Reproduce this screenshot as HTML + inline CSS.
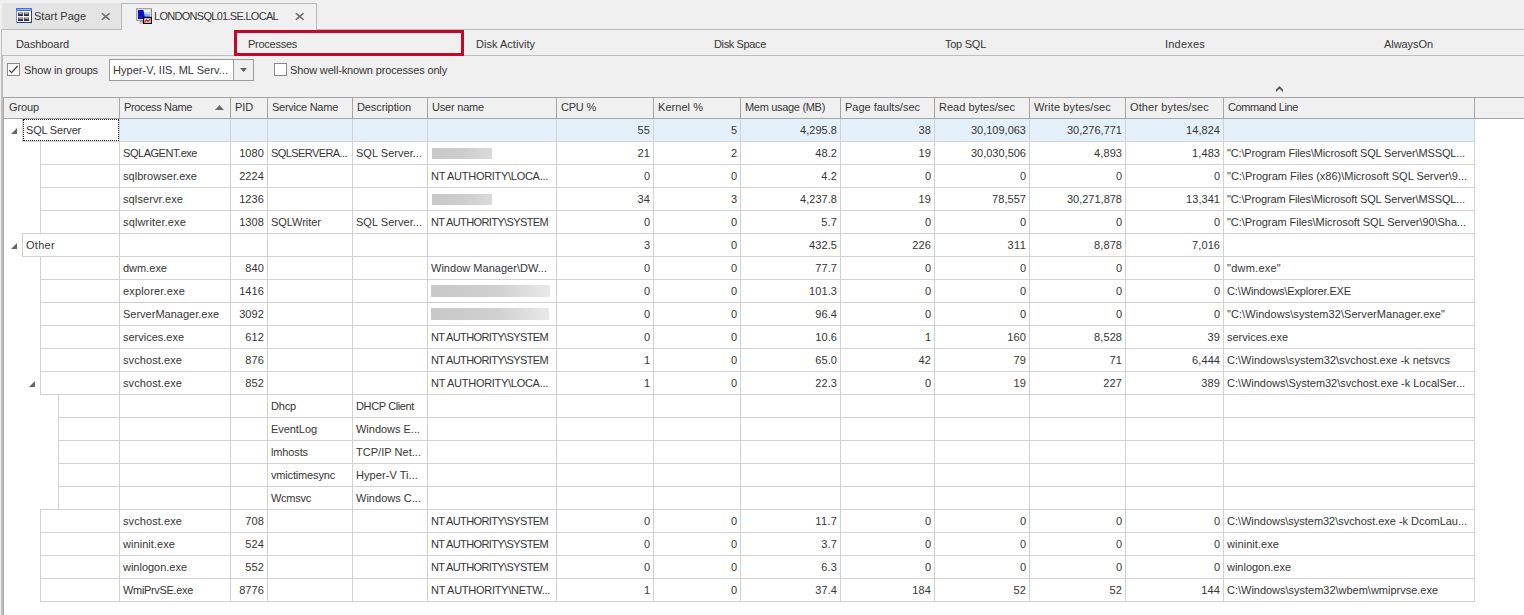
<!DOCTYPE html>
<html><head><meta charset="utf-8"><title>Processes</title><style>
html,body{margin:0;padding:0}
body{width:1524px;height:615px;background:#f0f0f0;position:relative;overflow:hidden;font-family:"Liberation Sans",sans-serif;font-size:11px;color:#363636}
body>div,body>span,body>svg{position:absolute;display:block}
.t{white-space:nowrap;line-height:22px;height:22px;}
.r{text-align:right}
.tab{line-height:22px}
</style></head><body>
<div style="left:2px;top:3px;width:119px;height:26px;background:#e4e4e4;"></div>
<div style="left:1px;top:29px;width:121px;height:1px;background:#bababa;"></div>
<div style="left:121px;top:3px;width:196px;height:1px;background:#bababa;"></div>
<div style="left:121px;top:3px;width:1px;height:27px;background:#bababa;"></div>
<div style="left:316px;top:3px;width:1px;height:27px;background:#bababa;"></div>
<div style="left:316px;top:29px;width:1208px;height:1px;background:#bababa;"></div>
<svg style="left:16px;top:8px" width="16" height="16" viewBox="0 0 16 16">
<rect x="0.5" y="0.5" width="15" height="14" fill="#f6f8fd" stroke="#6f8fdc"/>
<rect x="0" y="0" width="16" height="3" fill="#4273e6"/>
<rect x="1" y="1" width="14" height="1" fill="#8db0fa"/>
<rect x="2" y="4" width="5" height="4" fill="#27457f"/><rect x="2" y="4" width="5" height="1" fill="#8a9cc4"/><rect x="2" y="5" width="5" height="1" fill="#5673ad"/><rect x="3" y="4" width="3" height="2" fill="#f39a4c"/><rect x="3" y="5" width="1" height="1" fill="#c98a6a"/><rect x="2" y="7" width="5" height="1" fill="#1b2f5c"/><rect x="8" y="4" width="5" height="4" fill="#27457f"/><rect x="8" y="4" width="5" height="1" fill="#8a9cc4"/><rect x="8" y="5" width="5" height="1" fill="#5673ad"/><rect x="9" y="4" width="3" height="2" fill="#f39a4c"/><rect x="9" y="5" width="1" height="1" fill="#c98a6a"/><rect x="8" y="7" width="5" height="1" fill="#1b2f5c"/><rect x="2" y="9" width="5" height="4" fill="#27457f"/><rect x="2" y="9" width="5" height="1" fill="#8a9cc4"/><rect x="2" y="10" width="5" height="1" fill="#5673ad"/><rect x="3" y="9" width="3" height="2" fill="#f39a4c"/><rect x="3" y="10" width="1" height="1" fill="#c98a6a"/><rect x="2" y="12" width="5" height="1" fill="#1b2f5c"/><rect x="8" y="9" width="5" height="4" fill="#27457f"/><rect x="8" y="9" width="5" height="1" fill="#8a9cc4"/><rect x="8" y="10" width="5" height="1" fill="#5673ad"/><rect x="9" y="9" width="3" height="2" fill="#f39a4c"/><rect x="9" y="10" width="1" height="1" fill="#c98a6a"/><rect x="8" y="12" width="5" height="1" fill="#1b2f5c"/>
<rect x="15" y="3" width="1" height="12" fill="#2a3f66"/><rect x="1" y="14" width="15" height="1" fill="#2a3f66"/>
</svg>
<span class="t tab" style="left:34px;top:5px;letter-spacing:0.002px;">Start Page</span>
<svg style="left:101px;top:13px" width="10" height="7" viewBox="0 0 10 7"><path d="M0.9 0.2 L8.6 6.8 M8.6 0.2 L0.9 6.8" stroke="#727272" stroke-width="1.7" fill="none"/></svg>
<svg style="left:136px;top:8px" width="16" height="16" viewBox="0 0 16 16">
<rect x="0.5" y="0.5" width="15" height="12" fill="#dad7cd" stroke="#aaa89e"/>
<rect x="15" y="1" width="1" height="12" fill="#8b8980"/><rect x="1" y="12" width="15" height="1" fill="#9c9a90"/>
<rect x="2" y="2" width="12" height="9" fill="#0a14c4"/>
<polygon points="7.4,2 14,2 14,4 7.8,4" fill="#eef4ff"/><polygon points="7.8,4 14,4 14,6 8.2,6" fill="#c4d6ff"/><polygon points="8.2,6 14,6 14,8 8.6,8" fill="#8fb0ff"/><polygon points="8.6,8 14,8 14,11 9.2,11" fill="#4f7af4"/>
<rect x="4" y="13" width="5" height="1" fill="#a9a79e"/><rect x="3" y="14" width="7" height="1.6" fill="#c9c7be"/>
<rect x="7.6" y="9.6" width="7.8" height="5.8" fill="#fff" stroke="#000" stroke-width="1.3"/>
<path d="M8.8 13.7 L10.4 11.9 L11.9 13.2 L14.2 11.2" stroke="#ee1010" stroke-width="1.4" fill="none"/>
</svg>
<span class="t tab" style="left:154px;top:5px;letter-spacing:-0.709px;">LONDONSQL01.SE.LOCAL</span>
<svg style="left:295px;top:13px" width="10" height="7" viewBox="0 0 10 7"><path d="M0.9 0.2 L8.6 6.8 M8.6 0.2 L0.9 6.8" stroke="#727272" stroke-width="1.7" fill="none"/></svg>
<div style="left:1px;top:30px;width:1px;height:585px;background:#bdbdbd;"></div>
<div style="left:2px;top:56px;width:1px;height:559px;background:#bfbfbf;"></div>
<div style="left:3px;top:97px;width:1px;height:518px;background:#a8a8a8;"></div>
<div style="left:2px;top:55px;width:1522px;height:1px;background:#bebebe;"></div>
<span class="t nav" style="left:16px;top:33px;letter-spacing:-0.092px;">Dashboard</span>
<span class="t nav" style="left:248px;top:33px;letter-spacing:-0.262px;">Processes</span>
<span class="t nav" style="left:476px;top:33px;letter-spacing:0.024px;">Disk Activity</span>
<span class="t nav" style="left:714px;top:33px;letter-spacing:-0.364px;">Disk Space</span>
<span class="t nav" style="left:945px;top:33px;letter-spacing:-0.259px;">Top SQL</span>
<span class="t nav" style="left:1165px;top:33px;letter-spacing:0.21px;">Indexes</span>
<span class="t nav" style="left:1384px;top:33px;letter-spacing:-0.066px;">AlwaysOn</span>
<div style="left:234px;top:30px;width:224px;height:20px;border:3px solid #c20a28;background:transparent"></div>
<div style="left:7px;top:63px;width:11px;height:11px;border:1px solid #8c8c8c;background:#fff"></div>
<svg style="left:7px;top:63px" width="13" height="13" viewBox="0 0 13 13"><path d="M2.3 7.2 L4.6 9.6 L10.6 3" stroke="#444" stroke-width="1.3" fill="none"/></svg>
<span class="t" style="left:24px;top:59px;letter-spacing:-0.131px;">Show in groups</span>
<div style="left:109px;top:59px;width:143px;height:20px;border:1px solid #9b9b9b;background:#fff"></div>
<div style="left:234px;top:60px;width:19px;height:20px;background:#f0f0f0;"></div>
<div style="left:233px;top:60px;width:1px;height:20px;background:#9b9b9b;"></div>
<svg style="left:240px;top:68px" width="7" height="4" viewBox="0 0 7 4"><polygon points="0,0 7,0 3.5,4" fill="#606060"/></svg>
<span class="t" style="left:113px;top:59px;letter-spacing:0.046px;">Hyper-V, IIS, ML Serv...</span>
<div style="left:274px;top:63px;width:11px;height:11px;border:1px solid #8c8c8c;background:#fff"></div>
<span class="t" style="left:290px;top:59px;letter-spacing:-0.147px;">Show well-known processes only</span>
<svg style="left:1276px;top:86px" width="7" height="7" viewBox="0 0 7 7"><polygon points="3.5,0 7,3.5 7,6 3.5,2.7 0,6 0,3.5" fill="#585858"/></svg>
<div style="left:4px;top:97px;width:1520px;height:505px;background:#fff;"></div>
<div style="left:4px;top:601px;width:1520px;height:14px;background:#fff;"></div>
<div style="left:4px;top:97px;width:1520px;height:22px;background:#f0f0f0;"></div>
<div style="left:4px;top:97px;width:1520px;height:1px;background:#a5a5a5;"></div>
<div style="left:4px;top:118px;width:1520px;height:1px;background:#a5a5a5;"></div>
<div style="left:119px;top:98px;width:1px;height:20px;background:#a5a5a5;"></div>
<div style="left:230px;top:98px;width:1px;height:20px;background:#a5a5a5;"></div>
<div style="left:267px;top:98px;width:1px;height:20px;background:#a5a5a5;"></div>
<div style="left:352px;top:98px;width:1px;height:20px;background:#a5a5a5;"></div>
<div style="left:427px;top:98px;width:1px;height:20px;background:#a5a5a5;"></div>
<div style="left:556px;top:98px;width:1px;height:20px;background:#a5a5a5;"></div>
<div style="left:653px;top:98px;width:1px;height:20px;background:#a5a5a5;"></div>
<div style="left:740px;top:98px;width:1px;height:20px;background:#a5a5a5;"></div>
<div style="left:840px;top:98px;width:1px;height:20px;background:#a5a5a5;"></div>
<div style="left:934px;top:98px;width:1px;height:20px;background:#a5a5a5;"></div>
<div style="left:1029px;top:98px;width:1px;height:20px;background:#a5a5a5;"></div>
<div style="left:1125px;top:98px;width:1px;height:20px;background:#a5a5a5;"></div>
<div style="left:1223px;top:98px;width:1px;height:20px;background:#a5a5a5;"></div>
<div style="left:1474px;top:98px;width:1px;height:20px;background:#a5a5a5;"></div>
<span class="t h" style="left:9px;top:96px;letter-spacing:-0.116px;">Group</span>
<span class="t h" style="left:124px;top:96px;letter-spacing:-0.345px;">Process Name</span>
<span class="t h" style="left:235px;top:96px;letter-spacing:-0.115px;">PID</span>
<span class="t h" style="left:272px;top:96px;letter-spacing:-0.257px;">Service Name</span>
<span class="t h" style="left:357px;top:96px;letter-spacing:-0.094px;">Description</span>
<span class="t h" style="left:432px;top:96px;letter-spacing:-0.2px;">User name</span>
<span class="t h" style="left:561px;top:96px;letter-spacing:-0.212px;">CPU %</span>
<span class="t h" style="left:658px;top:96px;letter-spacing:0.045px;">Kernel %</span>
<span class="t h" style="left:745px;top:96px;letter-spacing:-0.311px;">Mem usage (MB)</span>
<span class="t h" style="left:845px;top:96px;letter-spacing:-0.015px;">Page faults/sec</span>
<span class="t h" style="left:939px;top:96px;letter-spacing:0.012px;">Read bytes/sec</span>
<span class="t h" style="left:1034px;top:96px;letter-spacing:0.133px;">Write bytes/sec</span>
<span class="t h" style="left:1130px;top:96px;letter-spacing:0.13px;">Other bytes/sec</span>
<span class="t h" style="left:1228px;top:96px;letter-spacing:-0.383px;">Command Line</span>
<svg style="left:215px;top:105px" width="9" height="5" viewBox="0 0 9 5"><polygon points="0,5 9,5 4.5,0" fill="#6a6a6a"/></svg>
<div style="left:120px;top:119px;width:1354px;height:22px;background:#e5f1fa;"></div>
<div style="left:22px;top:141px;width:1453px;height:1px;background:#d2d2d2;"></div>
<div style="left:22px;top:119px;width:1px;height:22px;background:#d2d2d2;"></div>
<span class="t" style="left:26px;top:119px;letter-spacing:-0.206px;">SQL Server</span>
<span class="t r" style="left:450.38px;width:200px;top:119px;letter-spacing:0.375px">55</span>
<span class="t r" style="left:537.88px;width:200px;top:119px;letter-spacing:0.875px">5</span>
<span class="t r" style="left:637.04px;width:200px;top:119px;letter-spacing:0.042px">4,295.8</span>
<span class="t r" style="left:731.38px;width:200px;top:119px;letter-spacing:0.375px">38</span>
<span class="t r" style="left:825.99px;width:200px;top:119px;letter-spacing:-0.006px">30,109,063</span>
<span class="t r" style="left:921.99px;width:200px;top:119px;letter-spacing:-0.006px">30,276,771</span>
<span class="t r" style="left:1020.06px;width:200px;top:119px;letter-spacing:0.057px">14,824</span>
<div style="left:40px;top:164px;width:1435px;height:1px;background:#d2d2d2;"></div>
<div style="left:40px;top:142px;width:1px;height:22px;background:#d2d2d2;"></div>
<span class="t" style="left:123px;top:142px;letter-spacing:-0.457px;">SQLAGENT.exe</span>
<span class="t r" style="left:64.13px;width:200px;top:142px;letter-spacing:0.129px">1080</span>
<span class="t" style="left:271px;top:142px;letter-spacing:-0.582px;">SQLSERVERA...</span>
<span class="t" style="left:356px;top:142px;letter-spacing:0.029px;">SQL Server...</span>
<div style="left:432px;top:148px;width:60px;height:11px;background:linear-gradient(90deg,#c8c8c8,#cecece 55%,#dadada);"></div>
<span class="t r" style="left:450.38px;width:200px;top:142px;letter-spacing:0.375px">21</span>
<span class="t r" style="left:537.88px;width:200px;top:142px;letter-spacing:0.875px">2</span>
<span class="t r" style="left:637.14px;width:200px;top:142px;letter-spacing:0.145px">48.2</span>
<span class="t r" style="left:731.38px;width:200px;top:142px;letter-spacing:0.375px">19</span>
<span class="t r" style="left:825.99px;width:200px;top:142px;letter-spacing:-0.006px">30,030,506</span>
<span class="t r" style="left:922.09px;width:200px;top:142px;letter-spacing:0.094px">4,893</span>
<span class="t r" style="left:1020.09px;width:200px;top:142px;letter-spacing:0.094px">1,483</span>
<span class="t" style="left:1227px;top:142px;letter-spacing:-0.148px;">&quot;C:\Program Files\Microsoft SQL Server\MSSQL...</span>
<div style="left:40px;top:187px;width:1435px;height:1px;background:#d2d2d2;"></div>
<div style="left:40px;top:165px;width:1px;height:22px;background:#d2d2d2;"></div>
<span class="t" style="left:123px;top:165px;letter-spacing:0.045px;">sqlbrowser.exe</span>
<span class="t r" style="left:64.13px;width:200px;top:165px;letter-spacing:0.129px">2224</span>
<span class="t" style="left:431px;top:165px;letter-spacing:-0.283px;">NT AUTHORITY\LOCA...</span>
<span class="t r" style="left:450.88px;width:200px;top:165px;letter-spacing:0.875px">0</span>
<span class="t r" style="left:537.88px;width:200px;top:165px;letter-spacing:0.875px">0</span>
<span class="t r" style="left:637.23px;width:200px;top:165px;letter-spacing:0.234px">4.2</span>
<span class="t r" style="left:731.88px;width:200px;top:165px;letter-spacing:0.875px">0</span>
<span class="t r" style="left:826.88px;width:200px;top:165px;letter-spacing:0.875px">0</span>
<span class="t r" style="left:922.88px;width:200px;top:165px;letter-spacing:0.875px">0</span>
<span class="t r" style="left:1020.88px;width:200px;top:165px;letter-spacing:0.875px">0</span>
<span class="t" style="left:1227px;top:165px;letter-spacing:-0.014px;">&quot;C:\Program Files (x86)\Microsoft SQL Server\9...</span>
<div style="left:40px;top:210px;width:1435px;height:1px;background:#d2d2d2;"></div>
<div style="left:40px;top:188px;width:1px;height:22px;background:#d2d2d2;"></div>
<span class="t" style="left:123px;top:188px;letter-spacing:0.108px;">sqlservr.exe</span>
<span class="t r" style="left:64.13px;width:200px;top:188px;letter-spacing:0.129px">1236</span>
<div style="left:432px;top:194px;width:60px;height:11px;background:linear-gradient(90deg,#c8c8c8,#cecece 55%,#dadada);"></div>
<span class="t r" style="left:450.38px;width:200px;top:188px;letter-spacing:0.375px">34</span>
<span class="t r" style="left:537.88px;width:200px;top:188px;letter-spacing:0.875px">3</span>
<span class="t r" style="left:637.04px;width:200px;top:188px;letter-spacing:0.042px">4,237.8</span>
<span class="t r" style="left:731.38px;width:200px;top:188px;letter-spacing:0.375px">19</span>
<span class="t r" style="left:826.06px;width:200px;top:188px;letter-spacing:0.057px">78,557</span>
<span class="t r" style="left:921.99px;width:200px;top:188px;letter-spacing:-0.006px">30,271,878</span>
<span class="t r" style="left:1020.06px;width:200px;top:188px;letter-spacing:0.057px">13,341</span>
<span class="t" style="left:1227px;top:188px;letter-spacing:-0.148px;">&quot;C:\Program Files\Microsoft SQL Server\MSSQL...</span>
<div style="left:22px;top:233px;width:1453px;height:1px;background:#d2d2d2;"></div>
<div style="left:40px;top:211px;width:1px;height:22px;background:#d2d2d2;"></div>
<span class="t" style="left:123px;top:211px;letter-spacing:0.143px;">sqlwriter.exe</span>
<span class="t r" style="left:64.13px;width:200px;top:211px;letter-spacing:0.129px">1308</span>
<span class="t" style="left:271px;top:211px;letter-spacing:-0.036px;">SQLWriter</span>
<span class="t" style="left:356px;top:211px;letter-spacing:0.029px;">SQL Server...</span>
<span class="t" style="left:431px;top:211px;letter-spacing:-0.619px;">NT AUTHORITY\SYSTEM</span>
<span class="t r" style="left:450.88px;width:200px;top:211px;letter-spacing:0.875px">0</span>
<span class="t r" style="left:537.88px;width:200px;top:211px;letter-spacing:0.875px">0</span>
<span class="t r" style="left:637.23px;width:200px;top:211px;letter-spacing:0.234px">5.7</span>
<span class="t r" style="left:731.88px;width:200px;top:211px;letter-spacing:0.875px">0</span>
<span class="t r" style="left:826.88px;width:200px;top:211px;letter-spacing:0.875px">0</span>
<span class="t r" style="left:922.88px;width:200px;top:211px;letter-spacing:0.875px">0</span>
<span class="t r" style="left:1020.88px;width:200px;top:211px;letter-spacing:0.875px">0</span>
<span class="t" style="left:1227px;top:211px;letter-spacing:-0.048px;">&quot;C:\Program Files\Microsoft SQL Server\90\Sha...</span>
<div style="left:22px;top:256px;width:1453px;height:1px;background:#d2d2d2;"></div>
<div style="left:22px;top:234px;width:1px;height:22px;background:#d2d2d2;"></div>
<span class="t" style="left:26px;top:234px;letter-spacing:0.297px;">Other</span>
<span class="t r" style="left:450.88px;width:200px;top:234px;letter-spacing:0.875px">3</span>
<span class="t r" style="left:537.88px;width:200px;top:234px;letter-spacing:0.875px">0</span>
<span class="t r" style="left:637.09px;width:200px;top:234px;letter-spacing:0.094px">432.5</span>
<span class="t r" style="left:731.21px;width:200px;top:234px;letter-spacing:0.214px">226</span>
<span class="t r" style="left:826.48px;width:200px;top:234px;letter-spacing:0.484px">311</span>
<span class="t r" style="left:922.09px;width:200px;top:234px;letter-spacing:0.094px">8,878</span>
<span class="t r" style="left:1020.09px;width:200px;top:234px;letter-spacing:0.094px">7,016</span>
<div style="left:40px;top:279px;width:1435px;height:1px;background:#d2d2d2;"></div>
<div style="left:40px;top:257px;width:1px;height:22px;background:#d2d2d2;"></div>
<span class="t" style="left:123px;top:257px;letter-spacing:-0.004px;">dwm.exe</span>
<span class="t r" style="left:64.21px;width:200px;top:257px;letter-spacing:0.214px">840</span>
<span class="t" style="left:431px;top:257px;letter-spacing:0.023px;">Window Manager\DW...</span>
<span class="t r" style="left:450.88px;width:200px;top:257px;letter-spacing:0.875px">0</span>
<span class="t r" style="left:537.88px;width:200px;top:257px;letter-spacing:0.875px">0</span>
<span class="t r" style="left:637.14px;width:200px;top:257px;letter-spacing:0.145px">77.7</span>
<span class="t r" style="left:731.88px;width:200px;top:257px;letter-spacing:0.875px">0</span>
<span class="t r" style="left:826.88px;width:200px;top:257px;letter-spacing:0.875px">0</span>
<span class="t r" style="left:922.88px;width:200px;top:257px;letter-spacing:0.875px">0</span>
<span class="t r" style="left:1020.88px;width:200px;top:257px;letter-spacing:0.875px">0</span>
<span class="t" style="left:1227px;top:257px;letter-spacing:0.241px;">&quot;dwm.exe&quot;</span>
<div style="left:40px;top:302px;width:1435px;height:1px;background:#d2d2d2;"></div>
<div style="left:40px;top:280px;width:1px;height:22px;background:#d2d2d2;"></div>
<span class="t" style="left:123px;top:280px;letter-spacing:0.172px;">explorer.exe</span>
<span class="t r" style="left:64.13px;width:200px;top:280px;letter-spacing:0.129px">1416</span>
<div style="left:431px;top:285px;width:119px;height:12px;background:linear-gradient(90deg,#c8c8c8,#d0d0d0 55%,#e9e9e9);"></div>
<span class="t r" style="left:450.88px;width:200px;top:280px;letter-spacing:0.875px">0</span>
<span class="t r" style="left:537.88px;width:200px;top:280px;letter-spacing:0.875px">0</span>
<span class="t r" style="left:637.09px;width:200px;top:280px;letter-spacing:0.094px">101.3</span>
<span class="t r" style="left:731.88px;width:200px;top:280px;letter-spacing:0.875px">0</span>
<span class="t r" style="left:826.88px;width:200px;top:280px;letter-spacing:0.875px">0</span>
<span class="t r" style="left:922.88px;width:200px;top:280px;letter-spacing:0.875px">0</span>
<span class="t r" style="left:1020.88px;width:200px;top:280px;letter-spacing:0.875px">0</span>
<span class="t" style="left:1227px;top:280px;letter-spacing:-0.137px;">C:\Windows\Explorer.EXE</span>
<div style="left:40px;top:325px;width:1435px;height:1px;background:#d2d2d2;"></div>
<div style="left:40px;top:303px;width:1px;height:22px;background:#d2d2d2;"></div>
<span class="t" style="left:123px;top:303px;letter-spacing:0.0px;">ServerManager.exe</span>
<span class="t r" style="left:64.13px;width:200px;top:303px;letter-spacing:0.129px">3092</span>
<div style="left:431px;top:308px;width:118px;height:12px;background:linear-gradient(90deg,#c8c8c8,#d0d0d0 55%,#e9e9e9);"></div>
<span class="t r" style="left:450.88px;width:200px;top:303px;letter-spacing:0.875px">0</span>
<span class="t r" style="left:537.88px;width:200px;top:303px;letter-spacing:0.875px">0</span>
<span class="t r" style="left:637.14px;width:200px;top:303px;letter-spacing:0.145px">96.4</span>
<span class="t r" style="left:731.88px;width:200px;top:303px;letter-spacing:0.875px">0</span>
<span class="t r" style="left:826.88px;width:200px;top:303px;letter-spacing:0.875px">0</span>
<span class="t r" style="left:922.88px;width:200px;top:303px;letter-spacing:0.875px">0</span>
<span class="t r" style="left:1020.88px;width:200px;top:303px;letter-spacing:0.875px">0</span>
<span class="t" style="left:1227px;top:303px;letter-spacing:0.06px;">&quot;C:\Windows\system32\ServerManager.exe&quot;</span>
<div style="left:40px;top:348px;width:1435px;height:1px;background:#d2d2d2;"></div>
<div style="left:40px;top:326px;width:1px;height:22px;background:#d2d2d2;"></div>
<span class="t" style="left:123px;top:326px;letter-spacing:-0.012px;">services.exe</span>
<span class="t r" style="left:64.21px;width:200px;top:326px;letter-spacing:0.214px">612</span>
<span class="t" style="left:431px;top:326px;letter-spacing:-0.619px;">NT AUTHORITY\SYSTEM</span>
<span class="t r" style="left:450.88px;width:200px;top:326px;letter-spacing:0.875px">0</span>
<span class="t r" style="left:537.88px;width:200px;top:326px;letter-spacing:0.875px">0</span>
<span class="t r" style="left:637.14px;width:200px;top:326px;letter-spacing:0.145px">10.6</span>
<span class="t r" style="left:731.88px;width:200px;top:326px;letter-spacing:0.875px">1</span>
<span class="t r" style="left:826.21px;width:200px;top:326px;letter-spacing:0.214px">160</span>
<span class="t r" style="left:922.09px;width:200px;top:326px;letter-spacing:0.094px">8,528</span>
<span class="t r" style="left:1020.38px;width:200px;top:326px;letter-spacing:0.375px">39</span>
<span class="t" style="left:1227px;top:326px;letter-spacing:-0.012px;">services.exe</span>
<div style="left:40px;top:371px;width:1435px;height:1px;background:#d2d2d2;"></div>
<div style="left:40px;top:349px;width:1px;height:22px;background:#d2d2d2;"></div>
<span class="t" style="left:123px;top:349px;letter-spacing:0.082px;">svchost.exe</span>
<span class="t r" style="left:64.21px;width:200px;top:349px;letter-spacing:0.214px">876</span>
<span class="t" style="left:431px;top:349px;letter-spacing:-0.619px;">NT AUTHORITY\SYSTEM</span>
<span class="t r" style="left:450.88px;width:200px;top:349px;letter-spacing:0.875px">1</span>
<span class="t r" style="left:537.88px;width:200px;top:349px;letter-spacing:0.875px">0</span>
<span class="t r" style="left:637.14px;width:200px;top:349px;letter-spacing:0.145px">65.0</span>
<span class="t r" style="left:731.38px;width:200px;top:349px;letter-spacing:0.375px">42</span>
<span class="t r" style="left:826.38px;width:200px;top:349px;letter-spacing:0.375px">79</span>
<span class="t r" style="left:922.38px;width:200px;top:349px;letter-spacing:0.375px">71</span>
<span class="t r" style="left:1020.09px;width:200px;top:349px;letter-spacing:0.094px">6,444</span>
<span class="t" style="left:1227px;top:349px;letter-spacing:0.012px;">C:\Windows\system32\svchost.exe -k netsvcs</span>
<div style="left:40px;top:394px;width:1435px;height:1px;background:#d2d2d2;"></div>
<div style="left:40px;top:372px;width:1px;height:22px;background:#d2d2d2;"></div>
<span class="t" style="left:123px;top:372px;letter-spacing:0.082px;">svchost.exe</span>
<span class="t r" style="left:64.21px;width:200px;top:372px;letter-spacing:0.214px">852</span>
<span class="t" style="left:431px;top:372px;letter-spacing:-0.283px;">NT AUTHORITY\LOCA...</span>
<span class="t r" style="left:450.88px;width:200px;top:372px;letter-spacing:0.875px">1</span>
<span class="t r" style="left:537.88px;width:200px;top:372px;letter-spacing:0.875px">0</span>
<span class="t r" style="left:637.14px;width:200px;top:372px;letter-spacing:0.145px">22.3</span>
<span class="t r" style="left:731.88px;width:200px;top:372px;letter-spacing:0.875px">0</span>
<span class="t r" style="left:826.38px;width:200px;top:372px;letter-spacing:0.375px">19</span>
<span class="t r" style="left:922.21px;width:200px;top:372px;letter-spacing:0.214px">227</span>
<span class="t r" style="left:1020.21px;width:200px;top:372px;letter-spacing:0.214px">389</span>
<span class="t" style="left:1227px;top:372px;letter-spacing:-0.023px;">C:\Windows\System32\svchost.exe -k LocalSer...</span>
<div style="left:58px;top:417px;width:1417px;height:1px;background:#d2d2d2;"></div>
<div style="left:58px;top:395px;width:1px;height:22px;background:#d2d2d2;"></div>
<span class="t" style="left:271px;top:395px;letter-spacing:-0.172px;">Dhcp</span>
<span class="t" style="left:356px;top:395px;letter-spacing:-0.378px;">DHCP Client</span>
<div style="left:58px;top:440px;width:1417px;height:1px;background:#d2d2d2;"></div>
<div style="left:58px;top:418px;width:1px;height:22px;background:#d2d2d2;"></div>
<span class="t" style="left:271px;top:418px;letter-spacing:-0.061px;">EventLog</span>
<span class="t" style="left:356px;top:418px;letter-spacing:-0.016px;">Windows E...</span>
<div style="left:58px;top:463px;width:1417px;height:1px;background:#d2d2d2;"></div>
<div style="left:58px;top:441px;width:1px;height:22px;background:#d2d2d2;"></div>
<span class="t" style="left:271px;top:441px;letter-spacing:-0.129px;">lmhosts</span>
<span class="t" style="left:356px;top:441px;letter-spacing:0.031px;">TCP/IP Net...</span>
<div style="left:58px;top:486px;width:1417px;height:1px;background:#d2d2d2;"></div>
<div style="left:58px;top:464px;width:1px;height:22px;background:#d2d2d2;"></div>
<span class="t" style="left:271px;top:464px;letter-spacing:-0.168px;">vmictimesync</span>
<span class="t" style="left:356px;top:464px;letter-spacing:0.067px;">Hyper-V Ti...</span>
<div style="left:40px;top:509px;width:1435px;height:1px;background:#d2d2d2;"></div>
<div style="left:58px;top:487px;width:1px;height:22px;background:#d2d2d2;"></div>
<span class="t" style="left:271px;top:487px;letter-spacing:-0.258px;">Wcmsvc</span>
<span class="t" style="left:356px;top:487px;letter-spacing:0.017px;">Windows C...</span>
<div style="left:40px;top:532px;width:1435px;height:1px;background:#d2d2d2;"></div>
<div style="left:40px;top:510px;width:1px;height:22px;background:#d2d2d2;"></div>
<span class="t" style="left:123px;top:510px;letter-spacing:0.082px;">svchost.exe</span>
<span class="t r" style="left:64.21px;width:200px;top:510px;letter-spacing:0.214px">708</span>
<span class="t" style="left:431px;top:510px;letter-spacing:-0.619px;">NT AUTHORITY\SYSTEM</span>
<span class="t r" style="left:450.88px;width:200px;top:510px;letter-spacing:0.875px">0</span>
<span class="t r" style="left:537.88px;width:200px;top:510px;letter-spacing:0.875px">0</span>
<span class="t r" style="left:637.35px;width:200px;top:510px;letter-spacing:0.352px">11.7</span>
<span class="t r" style="left:731.88px;width:200px;top:510px;letter-spacing:0.875px">0</span>
<span class="t r" style="left:826.88px;width:200px;top:510px;letter-spacing:0.875px">0</span>
<span class="t r" style="left:922.88px;width:200px;top:510px;letter-spacing:0.875px">0</span>
<span class="t r" style="left:1020.88px;width:200px;top:510px;letter-spacing:0.875px">0</span>
<span class="t" style="left:1227px;top:510px;letter-spacing:-0.033px;">C:\Windows\system32\svchost.exe -k DcomLau...</span>
<div style="left:40px;top:555px;width:1435px;height:1px;background:#d2d2d2;"></div>
<div style="left:40px;top:533px;width:1px;height:22px;background:#d2d2d2;"></div>
<span class="t" style="left:123px;top:533px;letter-spacing:0.058px;">wininit.exe</span>
<span class="t r" style="left:64.21px;width:200px;top:533px;letter-spacing:0.214px">524</span>
<span class="t" style="left:431px;top:533px;letter-spacing:-0.619px;">NT AUTHORITY\SYSTEM</span>
<span class="t r" style="left:450.88px;width:200px;top:533px;letter-spacing:0.875px">0</span>
<span class="t r" style="left:537.88px;width:200px;top:533px;letter-spacing:0.875px">0</span>
<span class="t r" style="left:637.23px;width:200px;top:533px;letter-spacing:0.234px">3.7</span>
<span class="t r" style="left:731.88px;width:200px;top:533px;letter-spacing:0.875px">0</span>
<span class="t r" style="left:826.88px;width:200px;top:533px;letter-spacing:0.875px">0</span>
<span class="t r" style="left:922.88px;width:200px;top:533px;letter-spacing:0.875px">0</span>
<span class="t r" style="left:1020.88px;width:200px;top:533px;letter-spacing:0.875px">0</span>
<span class="t" style="left:1227px;top:533px;letter-spacing:0.058px;">wininit.exe</span>
<div style="left:40px;top:578px;width:1435px;height:1px;background:#d2d2d2;"></div>
<div style="left:40px;top:556px;width:1px;height:22px;background:#d2d2d2;"></div>
<span class="t" style="left:123px;top:556px;letter-spacing:-0.018px;">winlogon.exe</span>
<span class="t r" style="left:64.21px;width:200px;top:556px;letter-spacing:0.214px">552</span>
<span class="t" style="left:431px;top:556px;letter-spacing:-0.619px;">NT AUTHORITY\SYSTEM</span>
<span class="t r" style="left:450.88px;width:200px;top:556px;letter-spacing:0.875px">0</span>
<span class="t r" style="left:537.88px;width:200px;top:556px;letter-spacing:0.875px">0</span>
<span class="t r" style="left:637.23px;width:200px;top:556px;letter-spacing:0.234px">6.3</span>
<span class="t r" style="left:731.88px;width:200px;top:556px;letter-spacing:0.875px">0</span>
<span class="t r" style="left:826.88px;width:200px;top:556px;letter-spacing:0.875px">0</span>
<span class="t r" style="left:922.88px;width:200px;top:556px;letter-spacing:0.875px">0</span>
<span class="t r" style="left:1020.88px;width:200px;top:556px;letter-spacing:0.875px">0</span>
<span class="t" style="left:1227px;top:556px;letter-spacing:-0.018px;">winlogon.exe</span>
<div style="left:40px;top:601px;width:1435px;height:1px;background:#d2d2d2;"></div>
<div style="left:40px;top:579px;width:1px;height:22px;background:#d2d2d2;"></div>
<span class="t" style="left:123px;top:579px;letter-spacing:-0.331px;">WmiPrvSE.exe</span>
<span class="t r" style="left:64.13px;width:200px;top:579px;letter-spacing:0.129px">8776</span>
<span class="t" style="left:431px;top:579px;letter-spacing:-0.274px;">NT AUTHORITY\NETW...</span>
<span class="t r" style="left:450.88px;width:200px;top:579px;letter-spacing:0.875px">1</span>
<span class="t r" style="left:537.88px;width:200px;top:579px;letter-spacing:0.875px">0</span>
<span class="t r" style="left:637.14px;width:200px;top:579px;letter-spacing:0.145px">37.4</span>
<span class="t r" style="left:731.21px;width:200px;top:579px;letter-spacing:0.214px">184</span>
<span class="t r" style="left:826.38px;width:200px;top:579px;letter-spacing:0.375px">52</span>
<span class="t r" style="left:922.38px;width:200px;top:579px;letter-spacing:0.375px">52</span>
<span class="t r" style="left:1020.21px;width:200px;top:579px;letter-spacing:0.214px">144</span>
<span class="t" style="left:1227px;top:579px;letter-spacing:-0.014px;">C:\Windows\system32\wbem\wmiprvse.exe</span>
<div style="left:119px;top:119px;width:1px;height:482px;background:#d2d2d2;"></div>
<div style="left:230px;top:119px;width:1px;height:482px;background:#d2d2d2;"></div>
<div style="left:267px;top:119px;width:1px;height:482px;background:#d2d2d2;"></div>
<div style="left:352px;top:119px;width:1px;height:482px;background:#d2d2d2;"></div>
<div style="left:427px;top:119px;width:1px;height:482px;background:#d2d2d2;"></div>
<div style="left:556px;top:119px;width:1px;height:482px;background:#d2d2d2;"></div>
<div style="left:653px;top:119px;width:1px;height:482px;background:#d2d2d2;"></div>
<div style="left:740px;top:119px;width:1px;height:482px;background:#d2d2d2;"></div>
<div style="left:840px;top:119px;width:1px;height:482px;background:#d2d2d2;"></div>
<div style="left:934px;top:119px;width:1px;height:482px;background:#d2d2d2;"></div>
<div style="left:1029px;top:119px;width:1px;height:482px;background:#d2d2d2;"></div>
<div style="left:1125px;top:119px;width:1px;height:482px;background:#d2d2d2;"></div>
<div style="left:1223px;top:119px;width:1px;height:482px;background:#d2d2d2;"></div>
<div style="left:1474px;top:119px;width:1px;height:482px;background:#d2d2d2;"></div>
<svg style="left:11px;top:128px" width="6" height="6" viewBox="0 0 6 6"><polygon points="6,0 6,6 0,6" fill="#666"/></svg>
<svg style="left:11px;top:243px" width="6" height="6" viewBox="0 0 6 6"><polygon points="6,0 6,6 0,6" fill="#666"/></svg>
<svg style="left:29px;top:381px" width="6" height="6" viewBox="0 0 6 6"><polygon points="6,0 6,6 0,6" fill="#666"/></svg>
<div style="left:23px;top:119px;width:94px;height:20px;border:1px dotted #222;background:#fff"></div>
<span class="t" style="left:26px;top:119px;letter-spacing:-0.206px;">SQL Server</span>
</body></html>
